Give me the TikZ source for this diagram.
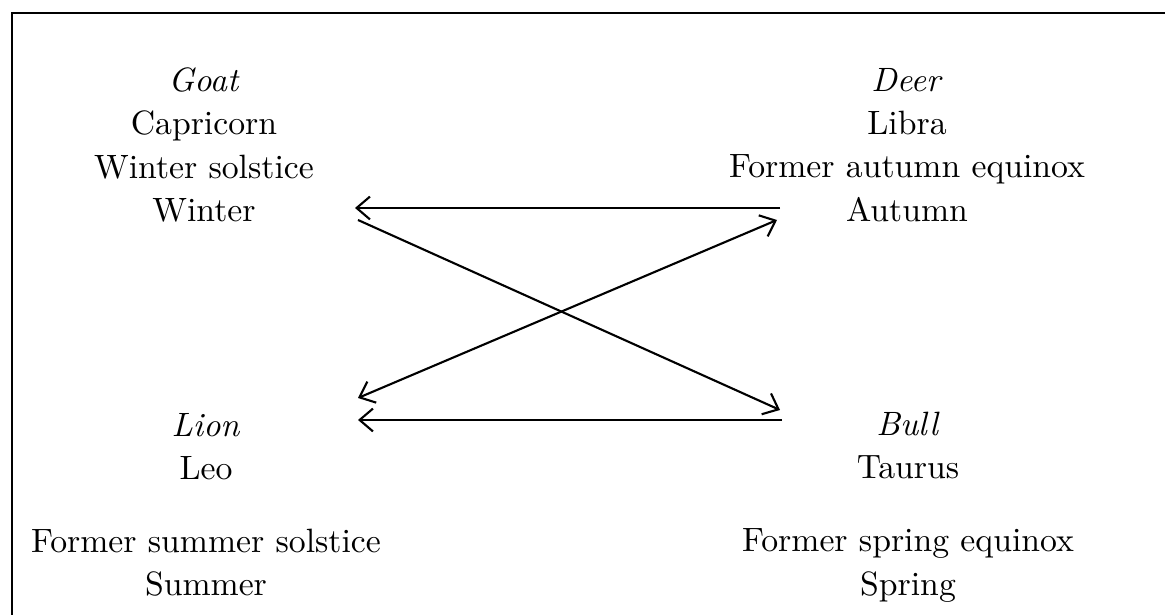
\documentclass[tikz,border=0pt]{standalone}
\usepackage{tikz}
\usetikzlibrary{arrows.meta,positioning}

\begin{document}
\begin{tikzpicture}[
  font=\fontsize{9.6}{12.3}\selectfont,
  sign/.style={align=center, inner sep=0pt},
  flow/.style={-{Straight Barb[length=3.8pt,width=6.5pt]}, line width=0.6pt},
  both/.style={{Straight Barb[length=3.8pt,width=6.5pt]}-{Straight Barb[length=3.8pt,width=6.5pt]}, line width=0.6pt},
  frame/.style={line width=0.8pt},
]
\useasboundingbox (0,0) rectangle (11.65,6.15);

%============================ FRAME ============================
\coordinate (fbot) at (0.12,0);
\coordinate (ftop) at (0.12,6.02);
\coordinate (fend) at (11.65,6.02);
\draw[frame] (fbot) -- (ftop) -- (fend);

%============================ SIGNS ============================
\node[sign] (goat) at (2.04,4.70) {\textit{Goat}\\Capricorn\\Winter solstice\\Winter};
\node[sign] (deer) at (9.07,4.70) {\textit{Deer}\\Libra\\Former autumn equinox\\Autumn};
\node[sign] (lion) at (2.06,1.10) {\textit{Lion}\\Leo\\[0.3cm]Former summer solstice\\Summer};
\node[sign] (bull) at (9.08,1.08) {\textit{Bull}\\Taurus\\[0.3cm]Former spring equinox\\Spring};

%============================ ARROWS ============================
% arrow ends sit beside the season lines
\coordinate (goatA) at (3.55,4.07);
\coordinate (goatB) at (3.58,3.95);
\coordinate (deerA) at (7.80,4.07);
\coordinate (deerB) at (7.77,3.95);
\coordinate (lionA) at (3.58,1.95);
\coordinate (lionB) at (3.58,2.17);
\coordinate (bullA) at (7.80,2.05);
\coordinate (bullB) at (7.82,1.95);

\foreach \a/\b in {deerA/goatA, goatB/bullA, bullB/lionA}
  \draw[flow] (\a) -- (\b);
\draw[both] (lionB) -- (deerB);

\end{tikzpicture}
\end{document}
